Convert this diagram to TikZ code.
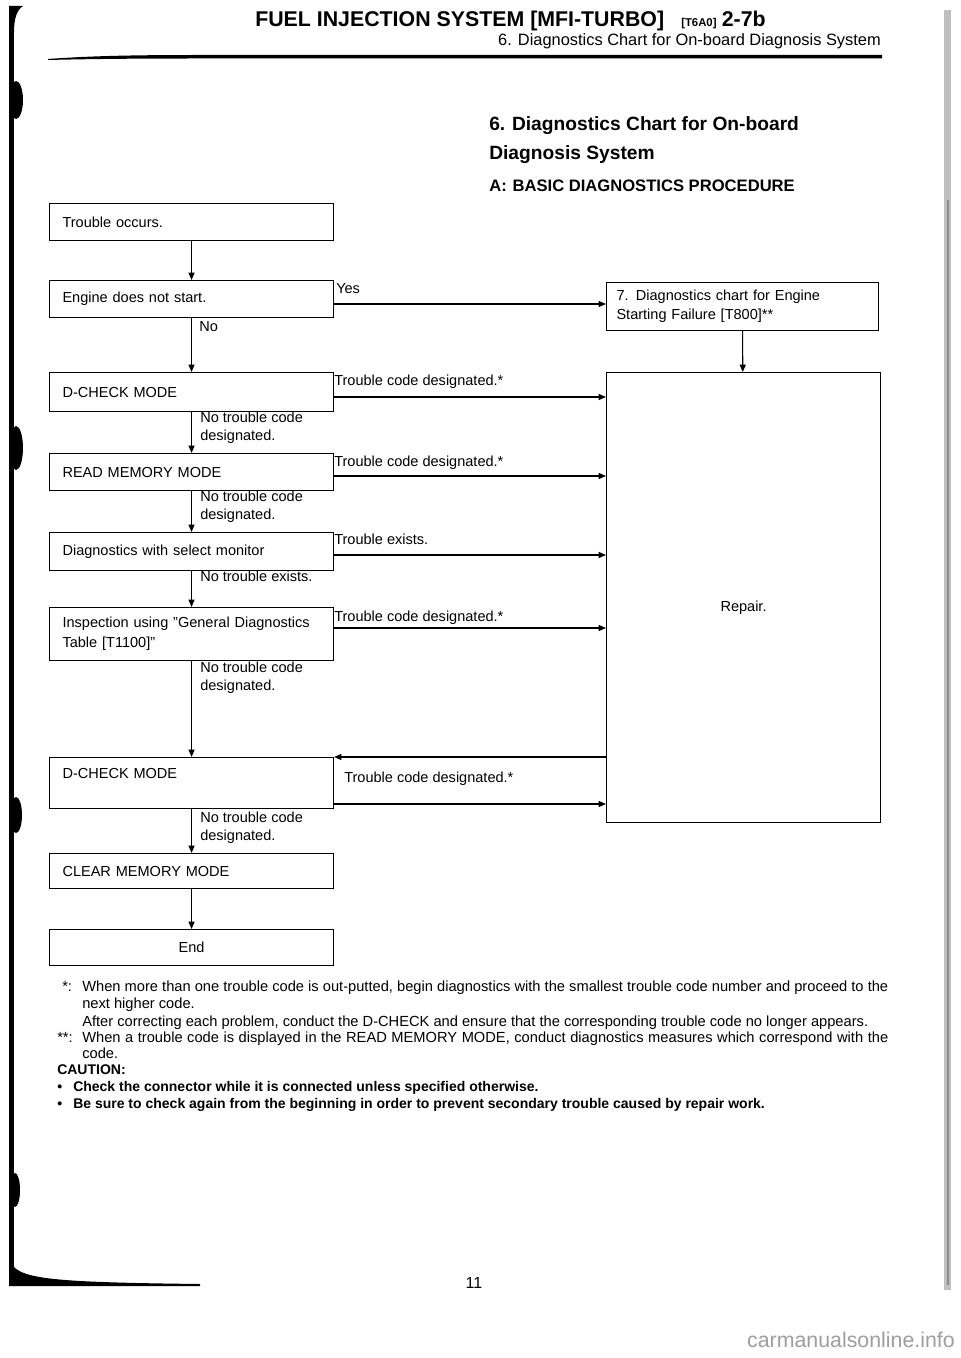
\documentclass[tikz,border=0pt]{standalone}
\usepackage{fontspec}
\setmainfont{Liberation Sans}
\usetikzlibrary{arrows.meta,calc}
\newcommand{\boxf}{\fontsize{10.9pt}{15pt}\selectfont}
\newcommand{\labf}{\fontsize{10.9pt}{13.5pt}\selectfont}
\newcommand{\fnf}{\fontsize{11pt}{12pt}\selectfont}
\tikzset{
  box/.style={draw, line width=0.8pt, anchor=north west, inner xsep=9.75pt, inner ysep=0pt,
    text width=193.5pt, align=left, font=\boxf},
  lab/.style={anchor=base west, inner sep=0pt, font=\labf, align=left},
  labtop/.style={anchor=north west, inner sep=0pt, font=\labf, align=left},
  arr/.style={line width=0.8pt, -{Triangle[length=5.5pt,width=4.5pt]}},
  fn/.style={anchor=base west, inner sep=0pt, font=\fnf},
  fnb/.style={anchor=base west, inner sep=0pt, font=\fontsize{10.5pt}{12pt}\selectfont\bfseries},
}
\begin{document}
\begin{tikzpicture}[x=0.75pt,y=-0.75pt]
\useasboundingbox (0,0) rectangle (960,1358);
\fill[white] (0,0) rectangle (960,1358);

% scan edges
\fill[black] (9,6) rectangle (14,1272);
\fill[black] (9,6) -- (23,6) .. controls (17,10) and (14,18) .. (14,32) -- (9,32) -- cycle;
\fill[black] (16,100) ellipse (7 and 19);
\fill[black] (16,448) ellipse (7 and 22);
\fill[black] (16,815) ellipse (6 and 18);
\fill[black] (15,1190) ellipse (5 and 17);
\fill[black] (9,1255) .. controls (12,1278) and (30,1282) .. (200,1284) -- (200,1286) -- (9,1286) -- cycle;
\fill[black!25] (944,10) rectangle (951,1290);
\fill[black!45] (947,200) rectangle (948.5,1285);

% header
\node[anchor=base west, inner sep=0pt, font=\fontsize{16pt}{16pt}\selectfont\bfseries] (hd) at (255,27) {FUEL INJECTION SYSTEM [MFI-TURBO]};
\node[anchor=base west, inner sep=0pt, font=\fontsize{8.5pt}{8.5pt}\selectfont\bfseries] (hcode) at (681,27) {[T6A0]};
\node[anchor=base east, inner sep=0pt, font=\fontsize{16pt}{16pt}\selectfont\bfseries] (hpage) at (766,27) {2-7b};
\node[anchor=base east, inner sep=0pt, font=\fontsize{12.3pt}{12.3pt}\selectfont] (hsub) at (881,46) {6. Diagnostics Chart for On-board Diagnosis System};
\fill[black] (48,59) .. controls (90,56) and (130,55) .. (200,55) -- (882,55) -- (882,58.5) -- (200,58.5) .. controls (130,58.5) and (90,59) .. (48,60) -- cycle;

% title
\node[anchor=base west, inner sep=0pt, font=\fontsize{14.4pt}{14.4pt}\selectfont\bfseries] (t1) at (489,131) {6.\hspace{0.35em}Diagnostics Chart for On-board};
\node[anchor=base west, inner sep=0pt, font=\fontsize{14.4pt}{14.4pt}\selectfont\bfseries] (t2) at (489,160) {Diagnosis System};
\node[anchor=base west, inner sep=0pt, font=\fontsize{12.45pt}{12.45pt}\selectfont\bfseries] (t3) at (489,192) {A:\hspace{0.35em}BASIC DIAGNOSTICS PROCEDURE};

% boxes
\node[box, minimum height=27.75pt] (b1) at (49,203) {Trouble occurs.};
\node[box, minimum height=27.75pt] (b2) at (49,280) {Engine does not start.};
\node[box, minimum height=29.25pt] (b3) at (49,372) {D-CHECK MODE};
\node[box, minimum height=27.75pt] (b4) at (49,453) {READ MEMORY MODE};
\node[box, minimum height=28.5pt] (b5) at (49,532) {Diagnostics with select monitor};
\node[box, minimum height=39.75pt] (b6) at (49,607) {Inspection using ''General Diagnostics\\Table [T1100]''};
\node[box, minimum height=38.25pt] (b7) at (49,757) {D-CHECK MODE\\\mbox{}};
\node[box, minimum height=26.25pt] (b8) at (49,853) {CLEAR MEMORY MODE};
\node[box, minimum height=27pt, align=center] (b9) at (49,929) {End};
\node[box, minimum height=36pt, text width=189pt, inner xsep=7.5pt, font=\fontsize{10.9pt}{14.25pt}\selectfont] (b10) at (606,282) {7. Diagnostics chart for Engine\\Starting Failure [T800]**};
\node[box, minimum height=337.5pt, text width=190.5pt, inner xsep=7.5pt, align=center] (rep) at (606,372) {\raisebox{-7.5pt}[\height][\depth]{Repair.}};

% level coordinates
\coordinate (yA) at (0,304);
\coordinate (yB) at (0,397);
\coordinate (yC) at (0,476);
\coordinate (yD) at (0,555);
\coordinate (yE) at (0,628);
\coordinate (yF) at (0,804);

% connectors
\draw[arr] (b1) -- (b2);
\draw[arr] (b2) -- (b3);
\draw[arr] (b3) -- (b4);
\draw[arr] (b4) -- (b5);
\draw[arr] (b5) -- (b6);
\draw[arr] (b6) -- (b7);
\draw[arr] (b7) -- (b8);
\draw[arr] (b8) -- (b9);
\draw[arr] (b10) -- (rep);
\draw[arr] (b2.east |- yA) -- (b10.west |- yA);
\draw[arr] (b3.east |- yB) -- (rep.west |- yB);
\draw[arr] (b4.east |- yC) -- (rep.west |- yC);
\draw[arr] (b5.east |- yD) -- (rep.west |- yD);
\draw[arr] (b6.east |- yE) -- (rep.west |- yE);
\draw[arr] (rep.west |- b7.north) -- (b7.north east);
\draw[arr] (b7.east |- yF) -- (rep.west |- yF);

% labels
\node[lab] (lyes) at (336,294) {Yes};
\node[lab] (lno) at (199,332) {No};
\node[lab] (l1) at (334,385) {Trouble code designated.*};
\node[labtop] (n1) at (200,412) {No trouble code\\designated.};
\node[lab] (l2) at (334,466) {Trouble code designated.*};
\node[labtop] (n2) at (200,491) {No trouble code\\designated.};
\node[lab] (l3) at (334,544) {Trouble exists.};
\node[lab] (n3) at (200,581) {No trouble exists.};
\node[lab] (l4) at (334,621) {Trouble code designated.*};
\node[labtop] (n4) at (200,662) {No trouble code\\designated.};
\node[lab] (l5) at (344,782) {Trouble code designated.*};
\node[labtop] (n5) at (200,812) {No trouble code\\designated.};

% footnotes
\node[fn] (f1a) at (62,991) {*:};
\node[fn] (f1b) at (82,991) {\makebox[604.5pt][s]{When more than one trouble code is out-putted, begin diagnostics with the smallest trouble code number and proceed to the}};
\node[fn] (f2) at (82,1008) {next higher code.};
\node[fn] (f3) at (82,1026) {After correcting each problem, conduct the D-CHECK and ensure that the corresponding trouble code no longer appears.};
\node[fn] (f4a) at (57,1042) {**:};
\node[fn] (f4b) at (82,1042) {\makebox[604.5pt][s]{When a trouble code is displayed in the READ MEMORY MODE, conduct diagnostics measures which correspond with the}};
\node[fn] (f5) at (82,1058) {code.};
\node[fnb] (f6) at (57,1074) {CAUTION:};
\node[fnb] (f7a) at (57,1091) {\textbullet};
\node[fnb] (f7b) at (73,1091) {Check the connector while it is connected unless specified otherwise.};
\node[fnb] (f8a) at (57,1108) {\textbullet};
\node[fnb] (f8b) at (73,1108) {Be sure to check again from the beginning in order to prevent secondary trouble caused by repair work.};

% page number and watermark
\node[anchor=center, inner sep=0pt, font=\fontsize{12pt}{12pt}\selectfont] (pg) at (474,1283) {11};
\node[anchor=base east, inner sep=0pt, text=black!38, font=\fontsize{16pt}{16pt}\selectfont] (wm) at (955,1347) {carmanualsonline.info};
\end{tikzpicture}
\end{document}
